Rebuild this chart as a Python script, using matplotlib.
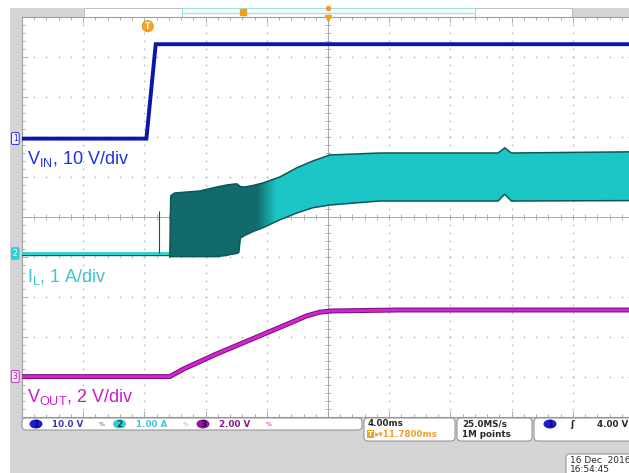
import numpy as np
import matplotlib
matplotlib.use('Agg')
import matplotlib.pyplot as plt
from matplotlib.patches import Rectangle, FancyBboxPatch, Ellipse
from matplotlib.colors import LinearSegmentedColormap
from matplotlib import transforms

plt.rcParams['font.family'] = ['Liberation Sans', 'DejaVu Sans']
plt.rcParams['mathtext.fontset'] = 'custom'
plt.rcParams['mathtext.rm'] = 'Liberation Sans'

# -------------------
# scope settings
# -------------------
MS_PER_DIV = 4.0
DELAY_MS = 11.78
VIN_SCALE, IL_SCALE, VOUT_SCALE = 10.0, 1.0, 2.0      # V/div, A/div, V/div
VIN_POS, IL_POS, VOUT_POS = 6.96, 4.09, 1.01          # ground level (div from bottom)
TRIG_LEVEL = 4.0

# -------------------
# waveform data (time in ms, trigger at 0)
# -------------------
vin_t = [-8.22, -0.09, 0.52, 31.78]
vin_v = [0.0, 0.0, 23.6, 23.6]

il_pre_t = [-8.22, 4.2]
il_pre_a = [0.0, 0.0]
il_spike_t = 0.72
il_spike_a = 1.06

il_t = [1.44, 1.50, 1.76, 3.40, 4.51, 5.16, 5.36, 5.82, 5.95, 6.05, 6.34, 6.90, 7.52,
        8.63, 9.74, 10.78, 11.90, 15.16, 22.90, 23.33, 23.76, 31.78]
il_top = [-0.08, 1.44, 1.51, 1.56, 1.66, 1.71, 1.72, 1.74, 1.70, 1.67, 1.66, 1.70, 1.76,
          1.91, 2.14, 2.31, 2.46, 2.51, 2.51, 2.64, 2.51, 2.54]
il_bot = [-0.08, -0.08, -0.08, -0.08, -0.08, -0.05, -0.03, 0.0, 0.02, 0.38, 0.45, 0.55, 0.64,
          0.84, 1.01, 1.14, 1.21, 1.31, 1.31, 1.48, 1.31, 1.32]

vout_t = [-8.22, 1.44, 2.31, 4.49, 6.67, 8.84, 10.37, 11.24, 11.90, 16.47, 31.78]
vout_v = [0.0, 0.0, 0.37, 1.13, 1.83, 2.53, 3.03, 3.22, 3.28, 3.33, 3.33]

ch_status = [('1', '10.0 V', '#1c1cd8', '#3a3ab4'),
             ('2', '1.00 A', '#2ed0d8', '#48c8d4'),
             ('3', '2.00 V', '#a012a0', '#8a1a8a')]

W, H = 629, 473
GRAY = '#d4d4d4'
fig = plt.figure(figsize=(W / 100, H / 100), dpi=100)
fig.patch.set_facecolor('white')

# background frame (pixel coords)
bg = fig.add_axes([0, 0, 1, 1], zorder=0)
bg.set_xlim(0, W); bg.set_ylim(H, 0); bg.axis('off')
bg.add_patch(Rectangle((10, 8), 12, 409, fc=GRAY, ec='none'))
bg.add_patch(Rectangle((10, 8), 74, 9, fc=GRAY, ec='none'))
bg.add_patch(Rectangle((572, 8), 57, 9, fc=GRAY, ec='none'))
bg.add_patch(Rectangle((10, 417), 619, 56, fc=GRAY, ec='none'))
bg.add_patch(Rectangle((84, 8), 98, 9, fc='white', ec='#b4b4b4', lw=0.6))
bg.add_patch(Rectangle((475, 8), 97, 9, fc='white', ec='#b4b4b4', lw=0.6))
bg.add_patch(Rectangle((182, 8), 293, 9, fc='#f5fdfd', ec='#8fdcdc', lw=0.6))
bg.plot([182, 475], [13, 13], color='#9fe3e3', lw=0.8)
bg.plot([243], [12], marker='s', ms=4, color='#f0a020')

# main graticule axes
x_left = DELAY_MS - 5 * MS_PER_DIV
ax = fig.add_axes([22 / W, 1 - 417 / H, 612 / W, 400 / H], zorder=1)
ax.set_xlim(x_left, x_left + 10 * MS_PER_DIV)
ax.set_ylim(0, 10)
ax.set_facecolor('white')
ax.set_xticks(x_left + MS_PER_DIV * np.arange(11))
ax.set_xticks(x_left + MS_PER_DIV / 5 * np.arange(51), minor=True)
ax.set_yticks(np.arange(11))
ax.set_yticks(np.arange(51) * 0.2, minor=True)
ax.tick_params(which='both', direction='in', top=True, right=True,
               labelbottom=False, labelleft=False, color='#a0a0a0', width=0.6)
ax.tick_params(which='major', length=4)
ax.tick_params(which='minor', length=2.5)
for sp in ax.spines.values():
    sp.set_color('#a0a0a0'); sp.set_linewidth(0.8)

gc = '#b8b8b8'
sub_y = np.arange(1, 50) * 0.2
sub_x = x_left + np.arange(1, 50) * MS_PER_DIV / 5
for i in range(1, 10):
    if i == 5:
        continue
    ax.plot(np.full(sub_y.size, x_left + i * MS_PER_DIV), sub_y, ls='none',
            marker='s', ms=1.1, mew=0, color=gc, zorder=1)
    ax.plot(sub_x, np.full(sub_x.size, i), ls='none',
            marker='s', ms=1.1, mew=0, color=gc, zorder=1)
ax.axvline(DELAY_MS, color='#a8a8a8', lw=0.7, zorder=1)
ax.axhline(5, color='#a8a8a8', lw=0.7, zorder=1)
ax.plot(np.full(sub_y.size, DELAY_MS), sub_y, ls='none', marker='_', ms=4,
        mew=0.6, color='#a8a8a8', zorder=1)
ax.plot(sub_x, np.full(sub_x.size, 5), ls='none', marker='|', ms=4,
        mew=0.6, color='#a8a8a8', zorder=1)

# ---- VIN
vin_div = VIN_POS + np.array(vin_v) / VIN_SCALE
ax.plot(vin_t, vin_div, color='#0c16a8', lw=2.8, zorder=4, solid_joinstyle='miter')

# ---- IL
dark, bright, edge = '#126a6b', '#1cc6c6', '#0b5859'
pre = IL_POS + np.array(il_pre_a) / IL_SCALE
ax.plot(il_pre_t, pre - 0.05, color=edge, lw=1.0, zorder=3)
ax.plot(il_pre_t, pre + 0.01, color='#25d2d2', lw=2.0, zorder=3)
ax.vlines(il_spike_t, IL_POS, IL_POS + il_spike_a / IL_SCALE, color=edge, lw=0.8, zorder=3)

top_div = IL_POS + np.array(il_top) / IL_SCALE
bot_div = IL_POS + np.array(il_bot) / IL_SCALE
env = ax.fill_between(il_t, bot_div, top_div, color='none', lw=0, zorder=3)
xs = np.linspace(x_left, x_left + 10 * MS_PER_DIV, 600)
shade = np.clip((xs - 7.1) / (8.4 - 7.1), 0, 1)
cmap = LinearSegmentedColormap.from_list('il', [dark, bright])
im = ax.imshow(shade[None, :], extent=[xs[0], xs[-1], 0, 10], aspect='auto',
               cmap=cmap, vmin=0, vmax=1, zorder=3, interpolation='bilinear')
im.set_clip_path(env.get_paths()[0], ax.transData)
ax.plot(il_t, top_div, color=edge, lw=1.1, zorder=3.5)
ax.plot(il_t, bot_div, color=edge, lw=1.1, zorder=3.5)
ax.set_xlim(x_left, x_left + 10 * MS_PER_DIV)
ax.set_ylim(0, 10)

# ---- VOUT
vout_div = VOUT_POS + np.array(vout_v) / VOUT_SCALE
ax.plot(vout_t, vout_div, color='#7c167c', lw=3.6, zorder=4)
ax.plot(vout_t, vout_div, color='#d424d4', lw=2.0, zorder=4.1)

# ---- labels
ax.text(x_left + 0.35, VIN_POS - 0.5, r'V$_\mathregular{IN}$, 10 V/div', color='#1f33d9',
        fontsize=13, va='center', zorder=6)
ax.text(x_left + 0.35, IL_POS - 0.6, r'I$_\mathregular{L}$, 1 A/div', color='#3cc6cf',
        fontsize=13, va='center', zorder=6)
ax.text(x_left + 0.35, VOUT_POS - 0.5, r'V$_\mathregular{OUT}$, 2 V/div', color='#c81ec8',
        fontsize=13, va='center', zorder=6)

# channel ground markers and trigger markers
blend = transforms.blended_transform_factory(ax.transAxes, ax.transData)
for num, pos, fc, ec, tc in [('1', VIN_POS, '#eef0ff', '#1c1cd8', '#1c1cd8'),
                             ('2', IL_POS, '#2ed0d8', '#2ed0d8', 'white'),
                             ('3', VOUT_POS, '#f6e0f6', '#b020b0', '#b020b0')]:
    ax.text(-0.011, pos, num, transform=blend, fontsize=5.5, ha='center', va='center',
            color=tc, clip_on=False, zorder=7, family='DejaVu Sans',
            bbox=dict(boxstyle='round,pad=0.2', fc=fc, ec=ec, lw=0.6))
ax.plot([0.998], [VIN_POS + TRIG_LEVEL / VIN_SCALE], transform=blend, marker='<',
        ms=4, color='#1c1cd8', clip_on=False, zorder=7)
ax.text(0, 9.77, 'T', fontsize=5.5, ha='center', va='center', color='#fff4d0',
        family='DejaVu Sans', fontweight='bold', zorder=7,
        bbox=dict(boxstyle='circle,pad=0.15', fc='#f2a42a', ec='#e08a10', lw=0.5))
ax.plot([DELAY_MS], [9.97], marker='v', ms=4, color='#f0a020', clip_on=False, zorder=7)

# ---- status bar (pixel coords)
fg = fig.add_axes([0, 0, 1, 1], zorder=2)
fg.set_xlim(0, W); fg.set_ylim(H, 0); fg.axis('off'); fg.patch.set_alpha(0)
fg.plot([328], [8.5], marker='o', ms=3, color='#f0a020')


def box(x, y, w, h):
    fg.add_patch(FancyBboxPatch((x, y), w, h, boxstyle='round,pad=0,rounding_size=4',
                                fc='white', ec='#8c8c8c', lw=0.7))


sb = dict(family='DejaVu Sans', fontweight='bold', fontsize=6.3, va='center')
box(22, 418, 340, 12)
for k, (num, txt, fc, tc) in enumerate(ch_status):
    x0 = 36 + k * 83.5
    fg.add_patch(Ellipse((x0, 424), 13, 9, fc=fc, ec='none'))
    fg.text(x0, 424, num, color='#10104a' if k != 1 else '#0a5050', ha='center', **sb)
    fg.text(x0 + 16, 424, txt, color=tc, **sb)
    fg.text(x0 + 63, 424, '%', color=tc, fontsize=4.5, va='center', family='DejaVu Sans')

box(364, 418, 91, 23)
fg.text(368, 423.5, '4.00ms', color='#282828', **sb)
fg.text(368, 434, 'T', color='white', fontsize=5, va='center', fontweight='bold',
        family='DejaVu Sans', bbox=dict(boxstyle='square,pad=0.1', fc='#f0a020', ec='none'))
fg.text(375, 434, '\u25b8\u25be11.7800ms', color='#f0a030', **sb)

box(457, 418, 75, 23)
fg.text(462, 423.5, '25.0MS/s', color='#282828', **sb)
fg.text(462, 434, '1M points', color='#282828', **sb)

box(534, 418, 100, 23)
fg.add_patch(Ellipse((550, 424), 13, 9, fc='#1c1cd8', ec='none'))
fg.text(550, 424, '1', color='#10104a', ha='center', **sb)
fg.text(570, 424, '\u0283', color='#282828', **sb)
fg.text(597, 424, '4.00 V', color='#282828', **sb)

box(566, 454, 70, 25)
fg.text(570, 460.5, '16 Dec  2016', color='#282828', family='DejaVu Sans', fontsize=6.5, va='center')
fg.text(570, 469.5, '16:54:45', color='#282828', family='DejaVu Sans', fontsize=6.5, va='center')

fig.savefig('out.png', dpi=100)
